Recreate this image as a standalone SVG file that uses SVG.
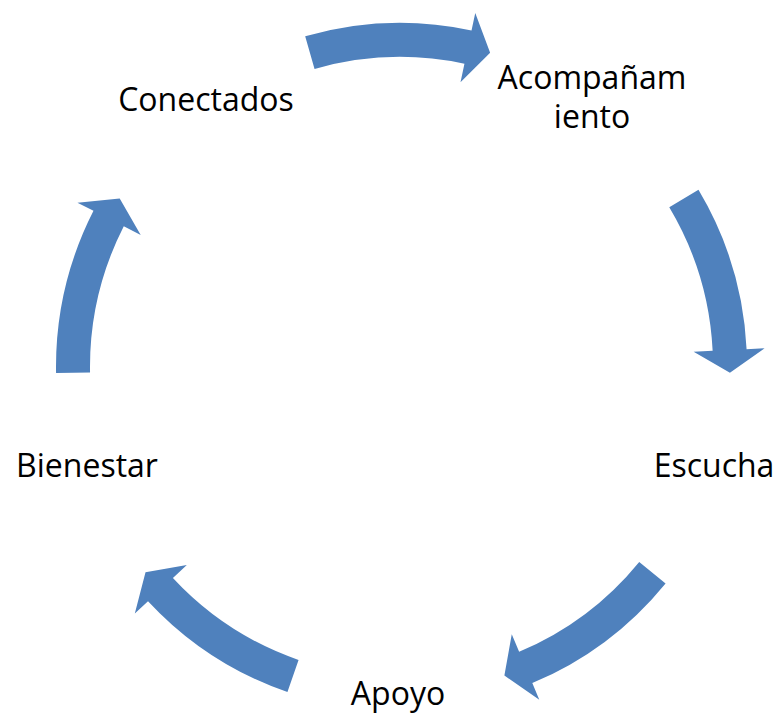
<svg xmlns="http://www.w3.org/2000/svg" xmlns:xlink="http://www.w3.org/1999/xlink" width="778" height="716" viewBox="0 0 778 716">
<style>
.arrow{fill:#4F81BD;}
.label{font-family:"Open Sans","Liberation Sans",sans-serif;font-size:32px;fill:#000;text-anchor:middle;}
</style>
<defs>
<path id="carrow" d="M330.67,-94.82 A344,344 0 0 1 336.48,71.52 L354.09,75.26 L314.33,90.13 L284.64,60.50 L303.23,64.45 A310,310 0 0 0 297.99,-85.45 Z"/>
</defs>
<rect width="778" height="716" fill="#fff"/>
<g id="connectors">
<use xlink:href="#carrow" class="arrow" transform="translate(400,367) rotate(270)"/>
<use xlink:href="#carrow" class="arrow" transform="translate(403,366) rotate(345.2)"/>
<use xlink:href="#carrow" class="arrow" transform="translate(399,366) rotate(55.2)"/>
<use xlink:href="#carrow" class="arrow" transform="translate(400,367) rotate(125.1)"/>
<use xlink:href="#carrow" class="arrow" transform="translate(400,367) rotate(195)"/>
</g>
<g id="node-conectados"><text class="label" x="206" y="111">Conectados</text></g>
<g id="node-acompanamiento"><text class="label" x="592" y="89">Acompañam</text><text class="label" x="592" y="128">iento</text></g>
<g id="node-escucha"><text class="label" x="714" y="477">Escucha</text></g>
<g id="node-apoyo"><text class="label" x="398" y="705">Apoyo</text></g>
<g id="node-bienestar"><text class="label" x="87" y="477">Bienestar</text></g>
</svg>
